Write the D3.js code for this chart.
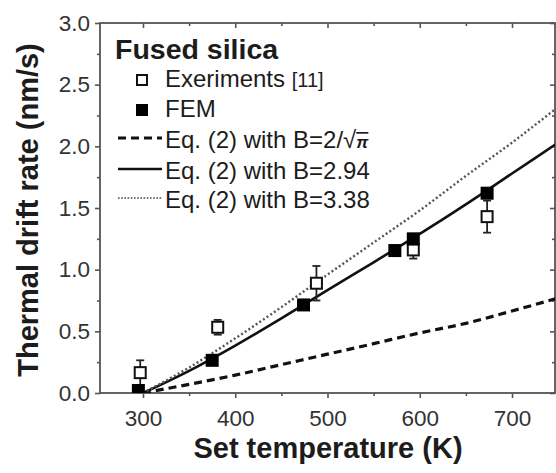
<!DOCTYPE html>
<html>
<head>
<meta charset="utf-8">
<script src="https://cdn.jsdelivr.net/npm/d3@7"></script>
<style>
  html, body { margin: 0; padding: 0; background: #fff; }
  svg { display: block; font-family: "Liberation Sans", Arial, sans-serif; }
</style>
</head>
<body>
<svg id="chart" width="556" height="473"></svg>
<script>
// Temperature grid (K) for the model curves of Eq. (2)
const tempGrid = [300, 350, 400, 450, 500, 550, 600, 650, 700, 750];
// Thermal drift rate (nm/s) from Eq. (2) for three values of B
const rateB2RootPi = [0, 0.07, 0.145, 0.23, 0.315, 0.40, 0.487, 0.565, 0.665, 0.77];
const rateB294 = [0, 0.18, 0.385, 0.605, 0.835, 1.06, 1.29, 1.53, 1.78, 2.03];
const rateB338 = [0, 0.207, 0.443, 0.696, 0.96, 1.22, 1.48, 1.76, 2.03, 2.32];

// FEM results
const femTemps = [295, 375, 474, 573, 593, 673];
const femRates = [0.02, 0.265, 0.714, 1.155, 1.25, 1.62];

// Experiments [11] with error bars
const expTemps = [297, 381, 488, 593, 673];
const expRates = [0.165, 0.533, 0.89, 1.16, 1.43];
const expErrors = [0.10, 0.06, 0.14, 0.07, 0.13];

// Axis ticks
const xMajorTicks = [300, 400, 500, 600, 700];
const xMinorTicks = [350, 450, 550, 650];
const yMajorTicks = [0, 0.5, 1.0, 1.5, 2.0, 2.5, 3.0];
const yMinorTicks = [0.25, 0.75, 1.25, 1.75, 2.25, 2.75];

const svg = d3.select("#chart");
const plotLeft = 100, plotRight = 555, plotTop = 23, plotBottom = 393;

const x = d3.scaleLinear().domain([253.4, 746.6]).range([plotLeft, plotRight]);
const y = d3.scaleLinear().domain([0, 3]).range([plotBottom, plotTop]);

const axisColor = "#555";
const tickTextColor = "#333";
const textColor = "#1c1c1c";

svg.append("defs").append("clipPath").attr("id", "plot-clip")
  .append("rect").attr("x", plotLeft).attr("y", plotTop)
  .attr("width", plotRight - plotLeft).attr("height", plotBottom - plotTop);

// Frame
svg.append("rect")
  .attr("x", plotLeft).attr("y", plotTop)
  .attr("width", plotRight - plotLeft).attr("height", plotBottom - plotTop)
  .attr("fill", "none").attr("stroke", axisColor).attr("stroke-width", 1.8);

// Axes: outward ticks on bottom/left, inward ticks on top/right
function styleAxis(g) {
  g.select(".domain").remove();
  g.selectAll(".tick line").attr("stroke", axisColor).attr("stroke-width", 1.6);
}

svg.append("g").attr("transform", `translate(0,${plotBottom})`)
  .call(d3.axisBottom(x).tickValues(xMajorTicks).tickSize(5).tickPadding(12).tickFormat(d3.format("d")))
  .call(styleAxis)
  .call(g => g.selectAll("text").attr("fill", tickTextColor).style("font-size", "22.5px"));
svg.append("g").attr("transform", `translate(0,${plotBottom})`)
  .call(d3.axisBottom(x).tickValues(xMinorTicks).tickSize(3).tickFormat(""))
  .call(styleAxis);
svg.append("g").attr("transform", `translate(0,${plotTop})`)
  .call(d3.axisBottom(x).tickValues(xMajorTicks).tickSize(5).tickFormat(""))
  .call(styleAxis);
svg.append("g").attr("transform", `translate(0,${plotTop})`)
  .call(d3.axisBottom(x).tickValues(xMinorTicks).tickSize(3).tickFormat(""))
  .call(styleAxis);

svg.append("g").attr("transform", `translate(${plotLeft},0)`)
  .call(d3.axisLeft(y).tickValues(yMajorTicks).tickSize(5).tickPadding(5).tickFormat(d3.format(".1f")))
  .call(styleAxis)
  .call(g => g.selectAll("text").attr("fill", tickTextColor).style("font-size", "22.5px"));
svg.append("g").attr("transform", `translate(${plotLeft},0)`)
  .call(d3.axisLeft(y).tickValues(yMinorTicks).tickSize(3).tickFormat(""))
  .call(styleAxis);
svg.append("g").attr("transform", `translate(${plotRight},0)`)
  .call(d3.axisLeft(y).tickValues(yMajorTicks).tickSize(5).tickFormat(""))
  .call(styleAxis);
svg.append("g").attr("transform", `translate(${plotRight},0)`)
  .call(d3.axisLeft(y).tickValues(yMinorTicks).tickSize(3).tickFormat(""))
  .call(styleAxis);

// Axis titles
svg.append("text")
  .attr("x", 328).attr("y", 458)
  .attr("text-anchor", "middle")
  .attr("fill", textColor)
  .style("font-size", "29px").style("font-weight", "bold")
  .text("Set temperature (K)");
svg.append("text")
  .attr("transform", "translate(38,210) rotate(-90)")
  .attr("text-anchor", "middle")
  .attr("fill", textColor)
  .style("font-size", "29px").style("font-weight", "bold")
  .text("Thermal drift rate (nm/s)");

// Model curves
const plot = svg.append("g").attr("clip-path", "url(#plot-clip)");
const line = d3.line()
  .x(d => x(d[0]))
  .y(d => y(d[1]))
  .curve(d3.curveMonotoneX);

const curves = [
  { values: rateB2RootPi, stroke: "#111", width: 3.2, dash: "8,5" },
  { values: rateB294, stroke: "#111", width: 2.6, dash: null },
  { values: rateB338, stroke: "#555", width: 2.4, dash: "2,2.4" }
];
curves.forEach(c => {
  plot.append("path")
    .datum(tempGrid.map((t, i) => [t, c.values[i]]))
    .attr("d", line)
    .attr("fill", "none")
    .attr("stroke", c.stroke)
    .attr("stroke-width", c.width)
    .attr("stroke-dasharray", c.dash);
});

// Experimental points with error bars
const ms = 13;
const expG = plot.append("g");
expTemps.forEach((t, i) => {
  const cx = x(t), cy = y(expRates[i]);
  const yTop = y(expRates[i] + expErrors[i]);
  const yBot = y(expRates[i] - expErrors[i]);
  expG.append("line").attr("x1", cx).attr("x2", cx).attr("y1", yTop).attr("y2", yBot)
    .attr("stroke", "#222").attr("stroke-width", 1.8);
  [yTop, yBot].forEach(yy => {
    expG.append("line").attr("x1", cx - 4).attr("x2", cx + 4).attr("y1", yy).attr("y2", yy)
      .attr("stroke", "#222").attr("stroke-width", 1.8);
  });
  expG.append("rect")
    .attr("x", cx - ms / 2 + 1).attr("y", cy - ms / 2 + 1)
    .attr("width", ms - 2).attr("height", ms - 2)
    .attr("fill", "#fff").attr("stroke", "#111").attr("stroke-width", 2);
});

// FEM points
plot.append("g").selectAll("rect")
  .data(femTemps.map((t, i) => [t, femRates[i]]))
  .join("rect")
  .attr("x", d => x(d[0]) - ms / 2)
  .attr("y", d => y(d[1]) - ms / 2)
  .attr("width", ms).attr("height", ms)
  .attr("fill", "#000");

// Legend
const legend = svg.append("g").attr("fill", textColor);
legend.append("text")
  .attr("x", 115).attr("y", 59)
  .style("font-size", "28.5px").style("font-weight", "bold")
  .text("Fused silica");

legend.append("rect")
  .attr("x", 142 - 5).attr("y", 80 - 5).attr("width", 10).attr("height", 10)
  .attr("fill", "#fff").attr("stroke", "#111").attr("stroke-width", 2);
const expLabel = legend.append("text").attr("x", 165).attr("y", 87).style("font-size", "24px");
expLabel.append("tspan").text("Exeriments ");
expLabel.append("tspan").style("font-size", "20px").text("[11]");

legend.append("rect")
  .attr("x", 142 - 6).attr("y", 110 - 6).attr("width", 12).attr("height", 12)
  .attr("fill", "#000");
legend.append("text").attr("x", 165).attr("y", 117).style("font-size", "24px").text("FEM");

const legendLines = [
  { yLine: 138, style: curves[0] },
  { yLine: 169, style: curves[1] },
  { yLine: 198, style: { stroke: "#777", width: 2.2, dash: "1.6,1.6" } }
];
legendLines.forEach(l => {
  legend.append("line")
    .attr("x1", 118).attr("x2", 162).attr("y1", l.yLine).attr("y2", l.yLine)
    .attr("stroke", l.style.stroke).attr("stroke-width", l.style.width)
    .attr("stroke-dasharray", l.style.dash);
});

const eq1 = legend.append("text").attr("x", 165).attr("y", 148).style("font-size", "24px");
eq1.append("tspan").text("Eq. (2) with B=2/√");
eq1.append("tspan")
  .style("font-size", "17px").style("font-weight", "bold").style("font-style", "italic")
  .style("text-decoration", "overline")
  .text("π");
legend.append("text").attr("x", 165).attr("y", 179).style("font-size", "24px").text("Eq. (2) with B=2.94");
legend.append("text").attr("x", 165).attr("y", 208).style("font-size", "24px").text("Eq. (2) with B=3.38");
</script>
</body>
</html>
